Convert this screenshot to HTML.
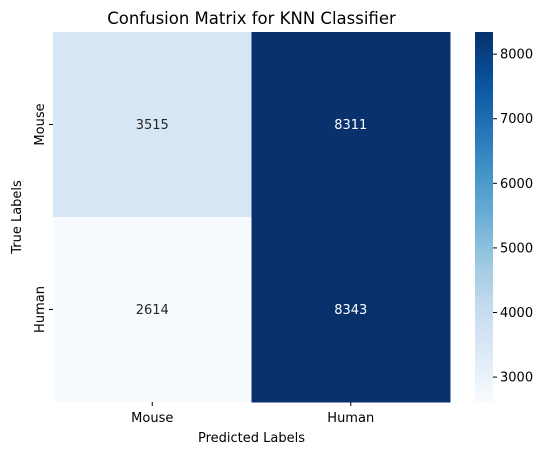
<!DOCTYPE html>
<html><head><meta charset="utf-8"><style>
body{margin:0;background:#fff;}
svg text{font-family:"DejaVu Sans","Liberation Sans",sans-serif;}
</style></head><body>
<svg id="chart" width="548" height="455" xmlns="http://www.w3.org/2000/svg">
<text x="251.5" y="24" text-anchor="middle" font-size="16.5">Confusion Matrix for KNN Classifier</text>
<g id="cells"></g>
<g id="axes"></g>
<g id="cbar"></g>
<text x="251.5" y="442" text-anchor="middle" font-size="13">Predicted Labels</text>
<text transform="translate(21,217) rotate(-90)" text-anchor="middle" font-size="13">True Labels</text>
</svg>
<script>
const rowLabels = ["Mouse", "Human"];
const colLabels = ["Mouse", "Human"];
const values = [[3515, 8311], [2614, 8343]];
const cbarTicks = [3000, 4000, 5000, 6000, 7000, 8000];

const NS = "http://www.w3.org/2000/svg";
const L = 53, T = 32, W = 397, H = 370;
const CB = {x: 475, w: 18};
const flat = values.flat();
const vmin = Math.min(...flat), vmax = Math.max(...flat);
const stops = ["#f7fbff","#deebf7","#c6dbef","#9ecae1","#6baed6","#4292c6","#2171b5","#08519c","#08306b"];
function hex(h){return [1,3,5].map(i=>parseInt(h.substr(i,2),16));}
function blues(t){
  t = Math.max(0, Math.min(1, t));
  const p = t*(stops.length-1), i = Math.min(Math.floor(p), stops.length-2), f = p-i;
  const a = hex(stops[i]), b = hex(stops[i+1]);
  return "rgb(" + a.map((v,k)=>Math.round(v+(b[k]-v)*f)).join(",") + ")";
}
const norm = v => (v - vmin) / (vmax - vmin);
const xc = j => L + W/colLabels.length*(j+0.5);
const yc = i => T + H/rowLabels.length*(i+0.5);
const cw = W/colLabels.length, ch = H/rowLabels.length;
function mk(tag, attrs, parent){const e=document.createElementNS(NS,tag);for(const k in attrs)e.setAttribute(k,attrs[k]);parent.appendChild(e);return e;}
const cells = document.getElementById("cells"), axes = document.getElementById("axes"), cbar = document.getElementById("cbar");
values.forEach((row,i)=>row.forEach((v,j)=>{
  const r = mk("rect",{x:xc(j)-cw/2,y:yc(i)-ch/2,width:cw+0.5,height:ch+0.5,fill:blues(norm(v))},cells);
  
  
  const t = mk("text",{x:xc(j),y:yc(i)+4.5,"text-anchor":"middle","font-size":"13",fill:norm(v)>0.5?"#fff":"#262626"},cells);
  
  
  t.textContent = v;
}));
colLabels.forEach((c,j)=>{
  mk("line",{x1:xc(j),x2:xc(j),y1:T+H,y2:T+H+4,stroke:"#000"},axes);
  const t = mk("text",{x:xc(j),y:T+H+20,"text-anchor":"middle","font-size":"13"},axes);
  
  
  t.textContent = c;
});
rowLabels.forEach((r,i)=>{
  mk("line",{x1:L-4,x2:L,y1:yc(i),y2:yc(i),stroke:"#000"},axes);
  const t = mk("text",{transform:`translate(${L-9},${yc(i)}) rotate(-90)`,"text-anchor":"middle","font-size":"13"},axes);
  
  
  t.textContent = r;
});
// colorbar
const defs = mk("defs",{},cbar);
const g = mk("linearGradient",{id:"cbg",x1:0,y1:1,x2:0,y2:0},defs);
for(let k=0;k<=20;k++){mk("stop",{offset:k/20,"stop-color":blues(k/20)},g);}
const cr = mk("rect",{x:CB.x,y:T,width:CB.w,height:H,fill:"url(#cbg)"},cbar);


const cy = v => T + H - norm(v)*H;
cbarTicks.forEach(v=>{
  mk("line",{x1:CB.x+CB.w,x2:CB.x+CB.w+4,y1:cy(v),y2:cy(v),stroke:"#000"},cbar);
  const t = mk("text",{x:CB.x+CB.w+7,y:cy(v)+4.5,"font-size":"13"},cbar);
  
  
  t.textContent = v;
});
</script>
</body></html>
